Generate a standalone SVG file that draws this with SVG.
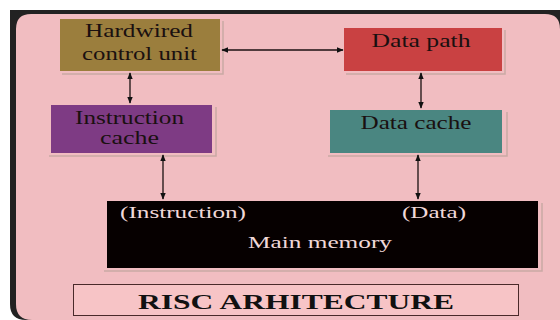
<svg xmlns="http://www.w3.org/2000/svg" width="560" height="320" viewBox="0 0 560 320">
<defs>
<marker id="ah" viewBox="0 0 10 10" refX="9" refY="5" markerWidth="7" markerHeight="7" orient="auto-start-reverse" markerUnits="userSpaceOnUse">
<path d="M0,1 L10,5 L0,9 Z" fill="#111"/>
</marker>
</defs>
<style>
.lbl{font-family:"Liberation Serif","Times New Roman",serif;font-size:18px;fill:#1a1010;text-anchor:middle}
.mem{font-family:"Liberation Serif","Times New Roman",serif;font-size:17px;fill:#f0d8d8}
.shadow{fill:none;stroke:#c9a9a4;stroke-width:1.5}
.conn line{stroke:#1a1010;stroke-width:1.3;marker-start:url(#ah);marker-end:url(#ah)}
</style>
<rect x="0" y="0" width="560" height="320" fill="#ffffff"/>
<path d="M10,10 H560 V320 H26 Q10,320 10,304 Z" fill="#222222"/>
<path d="M31,14 H545 Q560,14 560,29 V320 H32 Q16,320 16,304 V29 Q16,14 31,14 Z" fill="#f1bdc1"/>
<g id="hardwired">
<path class="shadow" d="M223,21 V74 H62"/>
<rect x="60" y="19" width="160" height="52" fill="#9b7e3d"/>
<text class="lbl" x="139" y="37" textLength="108" lengthAdjust="spacingAndGlyphs">Hardwired</text>
<text class="lbl" x="139.5" y="60" textLength="115" lengthAdjust="spacingAndGlyphs">control unit</text>
</g>
<g id="datapath">
<path class="shadow" d="M505,30 V74 H346"/>
<rect x="344" y="28" width="158" height="43" fill="#c94142"/>
<text class="lbl" x="421" y="47" textLength="99" lengthAdjust="spacingAndGlyphs">Data path</text>
</g>
<g id="icache">
<path class="shadow" d="M216,107 V156 H49"/>
<rect x="51" y="105" width="161" height="48" fill="#7e3b84"/>
<text class="lbl" x="129.5" y="124" textLength="109" lengthAdjust="spacingAndGlyphs">Instruction</text>
<text class="lbl" x="129.5" y="144" textLength="59" lengthAdjust="spacingAndGlyphs">cache</text>
</g>
<g id="dcache">
<path class="shadow" d="M507,112 V156 H328"/>
<rect x="330" y="110" width="172" height="43" fill="#4a8681"/>
<text class="lbl" x="416" y="129" textLength="111" lengthAdjust="spacingAndGlyphs">Data cache</text>
</g>
<g id="mainmem">
<path class="shadow" d="M542,203 V271 H104"/>
<rect x="107" y="201" width="431" height="67" fill="#060000"/>
<text class="mem" x="120" y="218" textLength="126" lengthAdjust="spacingAndGlyphs">(Instruction)</text>
<text class="mem" x="402" y="218" textLength="64" lengthAdjust="spacingAndGlyphs">(Data)</text>
<text class="mem" x="248" y="248" textLength="144" lengthAdjust="spacingAndGlyphs">Main memory</text>
</g>
<g id="title">
<rect x="73.5" y="284.5" width="445" height="31" fill="#f7c4c6" stroke="#4a2a2a" stroke-width="1"/>
<text x="296" y="309" text-anchor="middle" font-family="Liberation Serif, Times New Roman, serif" font-size="21" font-weight="bold" fill="#111" textLength="316" lengthAdjust="spacingAndGlyphs">RISC ARHITECTURE</text>
</g>
<g id="connectors" class="conn">
<line x1="222" y1="50" x2="343" y2="50"/>
<line x1="130" y1="73" x2="130" y2="103"/>
<line x1="421" y1="73" x2="421" y2="108"/>
<line x1="163" y1="155" x2="163" y2="199"/>
<line x1="418" y1="155" x2="418" y2="199"/>
</g>
</svg>
